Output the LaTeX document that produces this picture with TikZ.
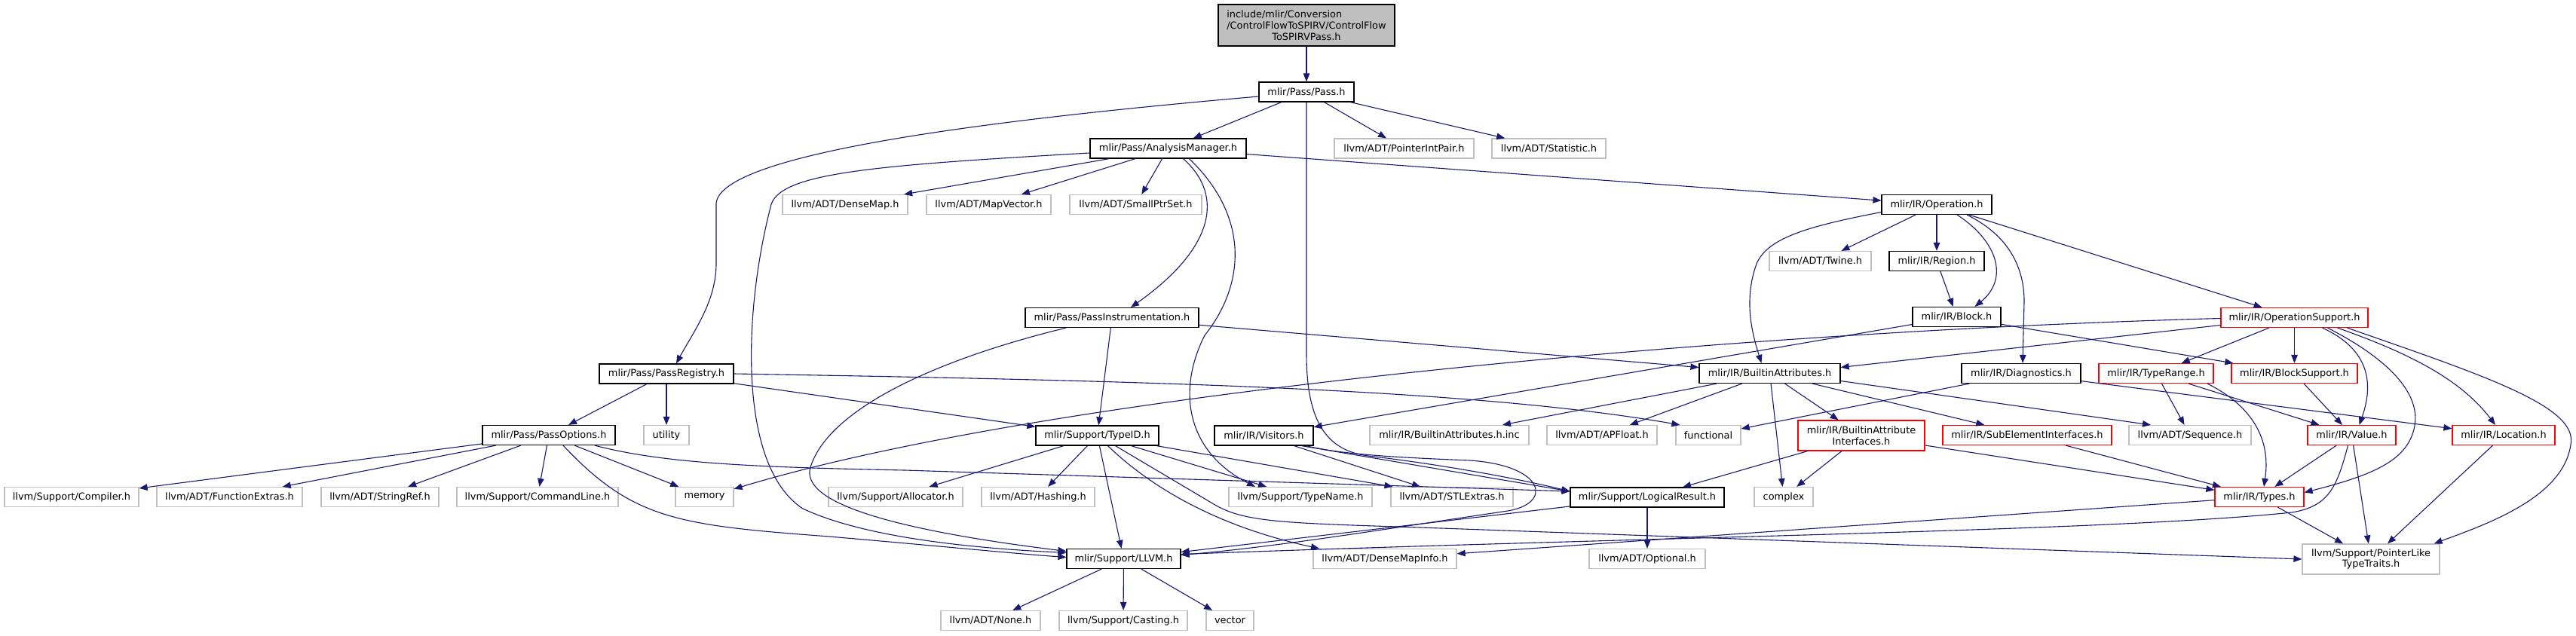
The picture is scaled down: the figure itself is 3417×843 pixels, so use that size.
\documentclass[tikz,border=0pt]{standalone}
\usepackage{fontspec}
\setmainfont{DejaVu Sans}
\usetikzlibrary{arrows.meta}
\definecolor{edgec}{HTML}{191970}
\definecolor{graybd}{HTML}{BFBFBF}
\definecolor{redbd}{HTML}{FF0000}
\definecolor{rootfill}{HTML}{BFBFBF}
\definecolor{blkbd}{HTML}{000000}
\tikzset{
  nd/.style={rectangle, inner sep=0pt, align=center, font=\fontsize{12.9pt}{14.7pt}\selectfont, line width=1.2pt, fill=white, minimum height=26pt},
  blk/.style={nd, draw=blkbd},
  gry/.style={nd, draw=graybd},
  rd/.style={nd, draw=redbd},
  rootnd/.style={nd, draw=blkbd, fill=rootfill},
  dep/.style={draw=edgec, line width=1.1pt, -{Triangle[length=11pt,width=8.5pt]}},
}
\begin{document}
\begin{tikzpicture}[x=1pt,y=-1pt]
\useasboundingbox (0,0) rectangle (3417,843);
% nodes
\node[rootnd, minimum width=234pt, minimum height=55pt] (root) at (1733,33.5) {\rlap{include/mlir/Conversion}\phantom{/ControlFlowToSPIRV/ControlFlow}\\/ControlFlowToSPIRV/ControlFlow\\ToSPIRVPass.h};
\node[blk, minimum width=126pt] (pass) at (1733,122) {mlir/Pass/Pass.h};
\node[blk, minimum width=207pt] (am) at (1549.5,197) {mlir/Pass/AnalysisManager.h};
\node[gry, minimum width=185pt] (pip) at (1862.5,197) {llvm/ADT/PointerIntPair.h};
\node[gry, minimum width=151pt] (stat) at (2054.5,197) {llvm/ADT/Statistic.h};
\node[gry, minimum width=166pt] (dmap) at (1121,271.5) {llvm/ADT/DenseMap.h};
\node[gry, minimum width=165pt] (mvec) at (1311.5,271.5) {llvm/ADT/MapVector.h};
\node[gry, minimum width=175pt] (sps) at (1506.5,271.5) {llvm/ADT/SmallPtrSet.h};
\node[blk, minimum width=146pt] (op) at (2569,271.5) {mlir/IR/Operation.h};
\node[gry, minimum width=135pt] (twine) at (2414.5,346.5) {llvm/ADT/Twine.h};
\node[blk, minimum width=126pt] (region) at (2569,346.5) {mlir/IR/Region.h};
\node[blk, minimum width=230pt] (pinst) at (1475,421.5) {mlir/Pass/PassInstrumentation.h};
\node[blk, minimum width=117pt] (block) at (2595.5,420.5) {mlir/IR/Block.h};
\node[rd, minimum width=195pt] (opsup) at (3043.5,421.5) {mlir/IR/OperationSupport.h};
\node[blk, minimum width=178pt] (preg) at (884,496) {mlir/Pass/PassRegistry.h};
\node[blk, minimum width=187pt] (battr) at (2347.5,495.5) {mlir/IR/BuiltinAttributes.h};
\node[blk, minimum width=158pt] (diag) at (2681,495.5) {mlir/IR/Diagnostics.h};
\node[rd, minimum width=152pt] (trange) at (2860,495.5) {mlir/IR/TypeRange.h};
\node[rd, minimum width=167pt] (bsup) at (3043.5,495.5) {mlir/IR/BlockSupport.h};
\node[blk, minimum width=176pt] (popt) at (728,577.5) {mlir/Pass/PassOptions.h};
\node[gry, minimum width=60pt] (utility) at (884,577.5) {utility};
\node[blk, minimum width=163pt] (typeid) at (1455.5,578) {mlir/Support/TypeID.h};
\node[blk, minimum width=131pt] (visitors) at (1676.5,578) {mlir/IR/Visitors.h};
\node[gry, minimum width=211pt] (bainc) at (1922.5,577.5) {mlir/IR/BuiltinAttributes.h.inc};
\node[gry, minimum width=146pt] (apf) at (2125,577.5) {llvm/ADT/APFloat.h};
\node[gry, minimum width=86pt] (func) at (2266,577.5) {functional};
\node[rd, minimum width=168pt, minimum height=40pt] (bai) at (2469,578) {mlir/IR/BuiltinAttribute\\Interfaces.h};
\node[rd, minimum width=224pt] (subel) at (2689,577.5) {mlir/IR/SubElementInterfaces.h};
\node[gry, minimum width=162pt] (seq) at (2905,577.5) {llvm/ADT/Sequence.h};
\node[rd, minimum width=117pt] (value) at (3119.5,577.5) {mlir/IR/Value.h};
\node[rd, minimum width=136pt] (loc) at (3321,577.5) {mlir/IR/Location.h};
\node[gry, minimum width=178pt] (compiler) at (95,659.5) {llvm/Support/Compiler.h};
\node[gry, minimum width=193pt] (fext) at (304.5,659.5) {llvm/ADT/FunctionExtras.h};
\node[gry, minimum width=156pt] (sref) at (504,659.5) {llvm/ADT/StringRef.h};
\node[gry, minimum width=214pt] (cline) at (713,659.5) {llvm/Support/CommandLine.h};
\node[gry, minimum width=77pt] (memory) at (934.5,659.5) {memory};
\node[gry, minimum width=178pt] (alloc) at (1188,659.5) {llvm/Support/Allocator.h};
\node[gry, minimum width=150pt] (hashing) at (1377,659.5) {llvm/ADT/Hashing.h};
\node[gry, minimum width=190pt] (tname) at (1725,659.5) {llvm/Support/TypeName.h};
\node[gry, minimum width=162pt] (stlx) at (1926,659.5) {llvm/ADT/STLExtras.h};
\node[blk, minimum width=204pt] (logres) at (2185,660) {mlir/Support/LogicalResult.h};
\node[gry, minimum width=78pt] (complex) at (2366,659.5) {complex};
\node[rd, minimum width=118pt] (types) at (2997,659.5) {mlir/IR/Types.h};
\node[blk, minimum width=151pt] (llvm) at (1490.5,741.5) {mlir/Support/LLVM.h};
\node[gry, minimum width=190pt] (dmi) at (1837,741.5) {llvm/ADT/DenseMapInfo.h};
\node[gry, minimum width=154pt] (opt) at (2185,741.5) {llvm/ADT/Optional.h};
\node[gry, minimum width=182pt, minimum height=40pt] (plt) at (3145,742) {llvm/Support/PointerLike\\TypeTraits.h};
\node[gry, minimum width=132pt] (none) at (1314,823.5) {llvm/ADT/None.h};
\node[gry, minimum width=170pt] (cast) at (1490,823.5) {llvm/Support/Casting.h};
\node[gry, minimum width=63pt] (vector) at (1631.5,823.5) {vector};
% edges
\draw[dep] (root) -- (pass);
\draw[dep] (pass) -- (am);
\draw[dep] (pass) -- (pip);
\draw[dep] (pass) -- (stat);
\draw[dep] ([yshift=-6pt]pass.west) .. controls (1300,160) and (955,205) .. (950,270) -- (950,350) .. controls (950,400) and (920,440) .. ([xshift=13pt]preg.north);
\draw[dep] (pass.south) -- (1733,470) .. controls (1733,560) and (1760,598) .. (1815,605) .. controls (1900,615) and (2000,632) .. ([yshift=8pt]logres.west);
\draw[dep] (am) -- (dmap);
\draw[dep] (am) -- (mvec);
\draw[dep] (am) -- (sps);
\draw[dep] ([xshift=20pt]am.south) .. controls (1625,260) and (1610,330) .. ([xshift=25pt]pinst.north);
\draw[dep] ([xshift=28pt]am.south) .. controls (1660,290) and (1650,380) .. (1598,445) .. controls (1560,520) and (1575,600) .. ([xshift=-60pt]tname.north);
\draw[dep] (am) -- (op);
\draw[dep] ([yshift=-6pt]am.west) .. controls (1150,220) and (1030,230) .. (1022,275) .. controls (985,420) and (980,620) .. (1065,675) .. controls (1150,715) and (1300,728) .. ([yshift=8pt]llvm.west);
\draw[dep] (pinst) -- (typeid);
\draw[dep] ([xshift=-61pt]pinst.south) .. controls (1250,475) and (1100,540) .. (1075,620) .. controls (1060,670) and (1200,705) .. ([yshift=10pt]llvm.west);
\draw[dep] (pinst) -- (battr);
\draw[dep] (preg) -- (popt);
\draw[dep] (preg) -- (utility);
\draw[dep] (preg) -- (typeid);
\draw[dep] (preg.east) .. controls (1500,505) and (1950,515) .. ([xshift=6pt]func.north west);
\draw[dep] (popt) -- (compiler);
\draw[dep] (popt) -- (fext);
\draw[dep] (popt) -- (sref);
\draw[dep] (popt) -- (cline);
\draw[dep] (popt) -- (memory);
\draw[dep] ([xshift=19pt]popt.south) .. controls (840,690) and (900,697) .. (1100,712) .. controls (1250,725) and (1350,735) .. ([yshift=2pt]llvm.west);
\draw[dep] ([xshift=61pt]popt.south) .. controls (880,615) and (1000,620) .. (1200,624) -- ([yshift=8pt]logres.west);
\draw[dep] (typeid) -- (alloc);
\draw[dep] (typeid) -- (hashing);
\draw[dep] (typeid) -- (llvm);
\draw[dep] (typeid) -- (tname);
\draw[dep] (typeid) -- (stlx);
\draw[dep] ([xshift=14pt]typeid.south) .. controls (1530,650) and (1620,700) .. ([xshift=-87pt]dmi.north);
\draw[dep] ([xshift=24pt]typeid.south) -- (1610,669) .. controls (1650,693) and (1700,694) .. (1884,700) -- (plt.west);
\draw[dep] ([xshift=50pt]visitors.south) -- ([yshift=8pt]logres.west);
\draw[dep] ([xshift=56pt]visitors.south) .. controls (1780,603) and (1850,607) .. (1950,611) .. controls (2050,618) and (2060,668) .. (2000,678) .. controls (1850,700) and (1700,725) .. ([yshift=5pt]llvm.east);
\draw[dep] ([xshift=40pt]visitors.south) -- (stlx);
\draw[dep] (logres) -- (opt);
\draw[dep] (logres) -- (llvm);
\draw[dep] (op) -- (twine);
\draw[dep] (op) -- (region);
\draw[dep] ([xshift=27pt]op.south) .. controls (2650,320) and (2665,370) .. ([xshift=24pt]block.north);
\draw[dep] ([yshift=-10pt]op.west) .. controls (2400,300) and (2345,315) .. (2330,350) .. controls (2312,400) and (2325,445) .. ([xshift=-11pt]battr.north);
\draw[dep] ([xshift=40pt]op.south) .. controls (2660,310) and (2685,350) .. (2685,400) -- ([xshift=2pt]diag.north);
\draw[dep] (op) -- (opsup);
\draw[dep] (region) -- (block);
\draw[dep] (block) -- (visitors);
\draw[dep] (block) -- (bsup);
\draw[dep] (battr) -- (bainc);
\draw[dep] (battr) -- (apf);
\draw[dep] (battr) -- (complex);
\draw[dep] (battr) -- (bai);
\draw[dep] (battr) -- (subel);
\draw[dep] ([yshift=-10pt]battr.east) -- ([xshift=-52pt]seq.north);
\draw[dep] (diag) -- (func);
\draw[dep] (diag) -- (loc);
\draw[dep] (opsup) -- (trange);
\draw[dep] (opsup) -- (bsup);
\draw[dep] ([xshift=37pt]opsup.south) .. controls (3135,460) and (3152,500) .. ([xshift=10pt]value.north);
\draw[dep] ([xshift=44pt]opsup.south) .. controls (3175,480) and (3210,525) .. (3203,565) .. controls (3195,610) and (3150,630) .. ([yshift=6pt]types.east);
\draw[dep] ([xshift=57pt]opsup.south) .. controls (3200,470) and (3265,505) .. ([xshift=-11pt]loc.north);
\draw[dep] ([xshift=70pt]opsup.south) .. controls (3300,500) and (3420,540) .. (3410,590) .. controls (3400,660) and (3300,695) .. ([xshift=-8pt]plt.north east);
\draw[dep] ([yshift=-10pt]opsup.west) -- ([yshift=8pt]battr.east);
\draw[dep] ([yshift=-1pt]opsup.west) .. controls (2300,440) and (1400,520) .. ([yshift=-3pt]memory.north east);
\draw[dep] (trange) -- (seq);
\draw[dep] (trange) -- (value);
\draw[dep] ([xshift=68pt]trange.south) .. controls (2990,540) and (3012,585) .. ([xshift=6pt]types.north);
\draw[dep] (bsup) -- (value);
\draw[dep] (bai) -- (logres);
\draw[dep] (bai) -- (complex);
\draw[dep] (bai) -- (types);
\draw[dep] (subel) -- (types);
\draw[dep] (value) -- (types);
\draw[dep] (value) -- (plt);
\draw[dep] ([xshift=-5pt]value.south) .. controls (3100,645) and (3090,672) .. (3040,680) .. controls (2800,705) and (2200,712) .. ([yshift=6pt]llvm.east);
\draw[dep] (loc) -- (plt);
\draw[dep] (types) -- (plt);
\draw[dep] (types) -- (dmi);
\draw[dep] (llvm) -- (none);
\draw[dep] (llvm) -- (cast);
\draw[dep] (llvm) -- (vector);
\end{tikzpicture}
\end{document}
